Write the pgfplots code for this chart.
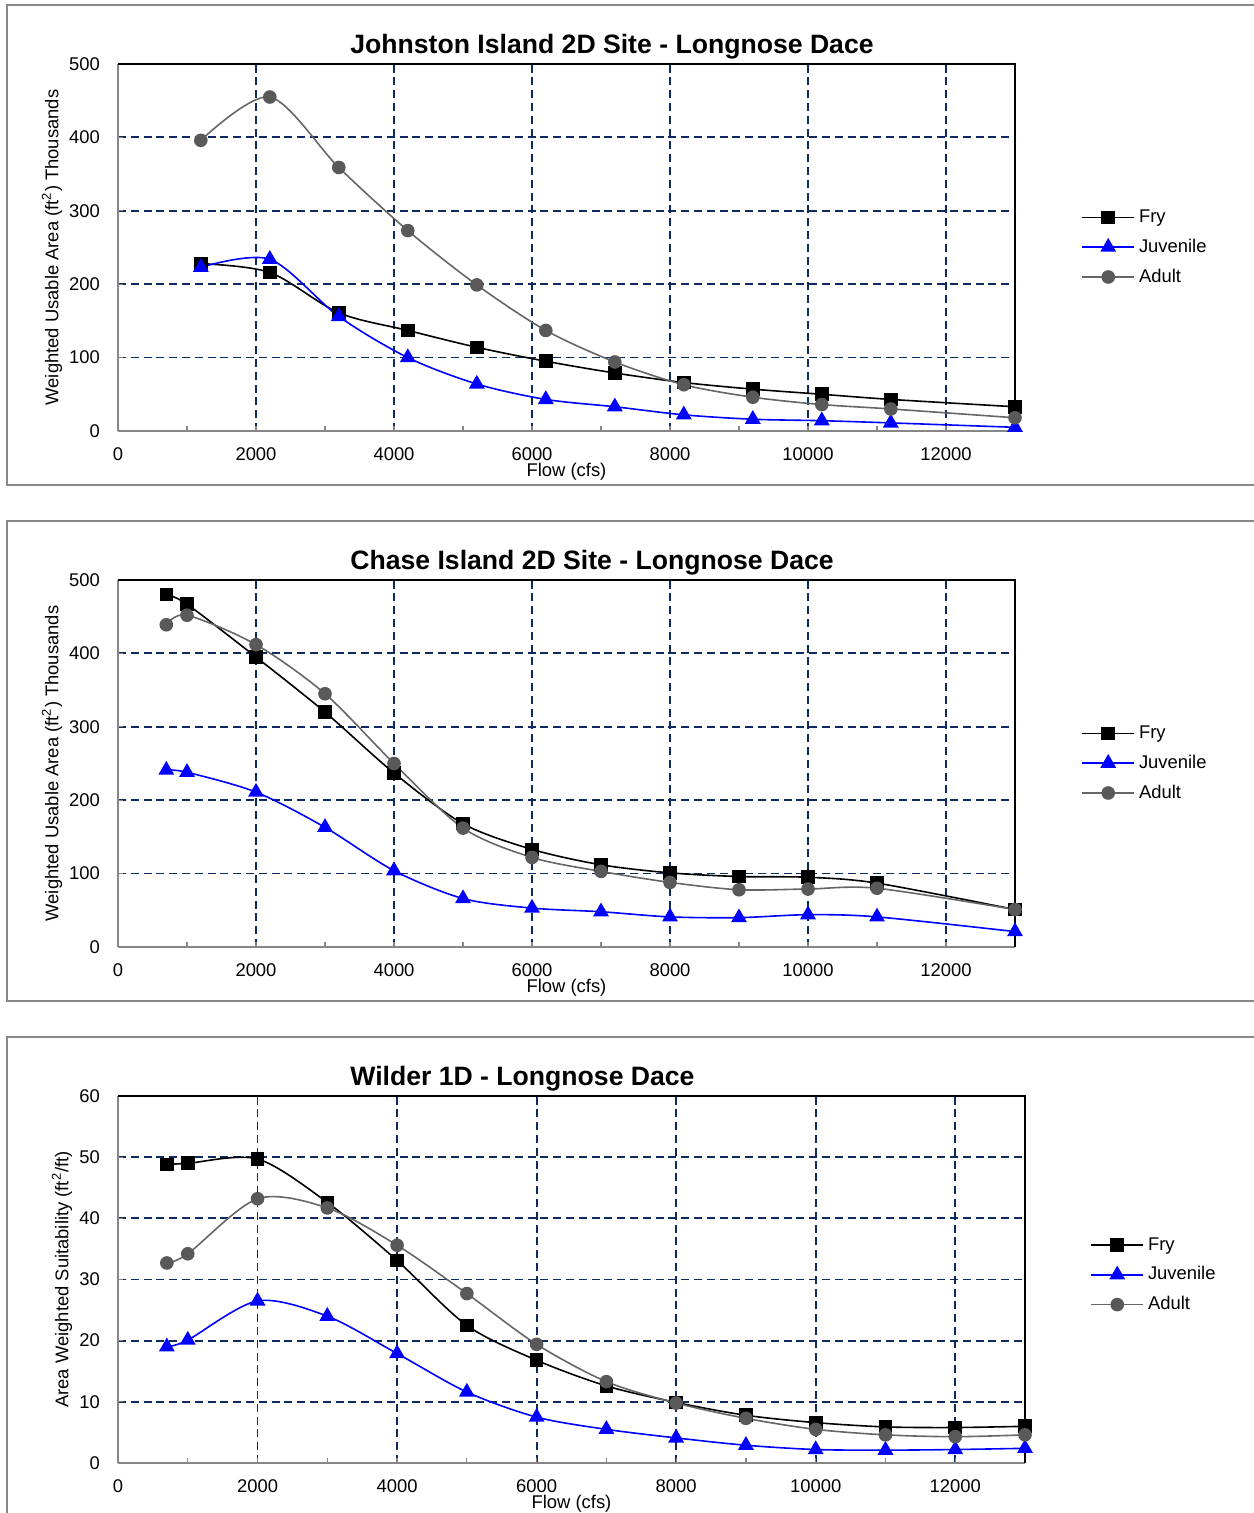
\documentclass[border=0pt]{standalone}
\usepackage{pgfplots}
\pgfplotsset{compat=1.18}
\usepackage{fontspec}
\setmainfont{Liberation Sans}
\definecolor{gridnavy}{HTML}{0E2A5E}
\definecolor{axgrey}{HTML}{868686}
\definecolor{framegrey}{HTML}{888888}
\definecolor{adultgrey}{HTML}{595959}
\definecolor{adultline}{HTML}{666666}
\newcommand{\fs}{\fontsize{9.2}{11}\selectfont}
\pgfplotsset{
  every axis title shift=0pt,
  panel/.style={
    scale only axis, height=183.5pt,
    xmin=0, xmax=13000, ymin=0,
    clip=false,
    scaled x ticks=false, scaled y ticks=false,
    axis x line*=bottom, axis y line*=left,
    axis line style={draw=axgrey, line width=1pt},
    tick align=inside, major tick length=2.5pt, minor tick length=2.5pt,
    tick style={axgrey, line width=0.6pt},
    xtick={0,2000,...,12000}, minor xtick={1000,3000,...,13000},
    grid=major,
    major grid style={gridnavy, line width=0.9pt, dash pattern=on 4pt off 2.4pt},
    /pgf/number format/1000 sep={},
    /pgf/number format/assume math mode=true,
    tick label style={font=\fs},
    xticklabel style={yshift=-5pt},
    yticklabel style={xshift=-5.5pt},
    label style={font=\fs},
    xlabel={Flow (cfs)},
    xlabel style={at={(0.5,-0.11)}, anchor=center},
    title style={anchor=west, inner sep=0pt, font=\bfseries\fontsize{13.3}{16}\selectfont},
    legend style={draw=none, fill=none, font=\fs, anchor=west, row sep=2.75pt, inner sep=0pt},
    legend cell align=left,
    legend image code/.code={\draw[mark repeat=2,mark phase=2,#1] plot coordinates {(0pt,0pt) (13pt,0pt) (26pt,0pt)};},
  },
  fry/.style={black, line width=0.8pt, mark=square*, mark size=3pt, mark options={solid, fill=black}, smooth},
  juv/.style={blue, line width=0.8pt, mark=triangle*, mark size=3.8pt, mark options={solid, fill=blue}, smooth},
  adult/.style={adultline, line width=0.8pt, mark=*, mark size=3pt, mark options={solid, draw=adultgrey, fill=adultgrey}, smooth},
}
\begin{document}
\begin{tikzpicture}[x=1pt,y=1pt]
\useasboundingbox (0,0) rectangle (626.5,756.5);
\draw[framegrey, line width=1pt] (640,754) -- (3.5,754) -- (3.5,514) -- (640,514);
\draw[framegrey, line width=1pt] (640,496) -- (3.5,496) -- (3.5,256) -- (640,256);
\draw[framegrey, line width=1pt] (640,238) -- (3.5,238) -- (3.5,-10);

% Panel 1
\begin{axis}[panel, at={(59pt,541pt)}, anchor=south west, width=448.5pt,
  ymax=500, ytick={0,100,...,500},
  title={Johnston Island 2D Site - Longnose Dace},
  title style={at={(0.2586,1.046)}},
  ylabel={Weighted Usable Area (ft\textsuperscript{2}) Thousands},
  ylabel style={at={(-0.0736,0.5)}, anchor=center},
  legend style={at={(1.0736,0.50)}}]
\addplot[fry] coordinates {(1200,228) (2200,216) (3200,161) (4200,137) (5200,114) (6200,95) (7200,79) (8200,66) (9200,57) (10200,50) (11200,43) (13000,33)};
\addplot[juv] coordinates {(1200,223) (2200,234) (3200,156) (4200,100) (5200,64) (6200,43) (7200,33) (8200,22) (9200,16) (10200,14) (11200,11) (13000,5)};
\addplot[adult] coordinates {(1200,396) (2200,455) (3200,359) (4200,273) (5200,199) (6200,137) (7200,94) (8200,63) (9200,46) (10200,36) (11200,30) (13000,18)};
\legend{Fry,Juvenile,Adult}
\draw[black, line width=1pt] (rel axis cs:0,1) -- (rel axis cs:1,1) -- (rel axis cs:1,0);
\end{axis}

% Panel 2
\begin{axis}[panel, at={(59pt,283pt)}, anchor=south west, width=448.5pt,
  ymax=500, ytick={0,100,...,500},
  title={Chase Island 2D Site - Longnose Dace},
  title style={at={(0.2586,1.046)}},
  ylabel={Weighted Usable Area (ft\textsuperscript{2}) Thousands},
  ylabel style={at={(-0.0736,0.5)}, anchor=center},
  legend style={at={(1.0736,0.50)}}]
\addplot[fry] coordinates {(700,480) (1000,467) (2000,395) (3000,320) (4000,237) (5000,168) (6000,133) (7000,112) (8000,101) (9000,96) (10000,95) (11000,87) (13000,51)};
\addplot[juv] coordinates {(700,241) (1000,238) (2000,211) (3000,163) (4000,104) (5000,66) (6000,53) (7000,48) (8000,41) (9000,40) (10000,44) (11000,41) (13000,21)};
\addplot[adult] coordinates {(700,439) (1000,452) (2000,412) (3000,345) (4000,250) (5000,162) (6000,122) (7000,103) (8000,88) (9000,78) (10000,79) (11000,80) (13000,51)};
\legend{Fry,Juvenile,Adult}
\draw[black, line width=1pt] (rel axis cs:0,1) -- (rel axis cs:1,1) -- (rel axis cs:1,0);
\end{axis}

% Panel 3
\begin{axis}[panel, at={(59pt,25pt)}, anchor=south west, width=453.5pt,
  ymax=60, ytick={0,10,...,60},
  title={Wilder 1D - Longnose Dace},
  title style={at={(0.2558,1.046)}},
  ylabel={Area Weighted Suitability (ft\textsuperscript{2}/ft)},
  ylabel style={at={(-0.0617,0.5)}, anchor=center},
  legend style={at={(1.0717,0.512)}}]
\addplot[fry] coordinates {(700,48.8) (1000,49.0) (2000,49.7) (3000,42.6) (4000,33.1) (5000,22.5) (6000,16.8) (7000,12.6) (8000,9.9) (9000,7.8) (10000,6.6) (11000,5.9) (12000,5.8) (13000,6.0)};
\addplot[juv] coordinates {(700,19.0) (1000,20.1) (2000,26.5) (3000,24.0) (4000,17.9) (5000,11.6) (6000,7.5) (7000,5.5) (8000,4.1) (9000,2.9) (10000,2.2) (11000,2.1) (12000,2.2) (13000,2.4)};
\addplot[adult] coordinates {(700,32.7) (1000,34.2) (2000,43.2) (3000,41.7) (4000,35.6) (5000,27.7) (6000,19.4) (7000,13.3) (8000,9.8) (9000,7.3) (10000,5.5) (11000,4.6) (12000,4.3) (13000,4.6)};
\legend{Fry,Juvenile,Adult}
\draw[black, line width=1pt] (rel axis cs:0,1) -- (rel axis cs:1,1) -- (rel axis cs:1,0);
\end{axis}
\end{tikzpicture}
\end{document}
